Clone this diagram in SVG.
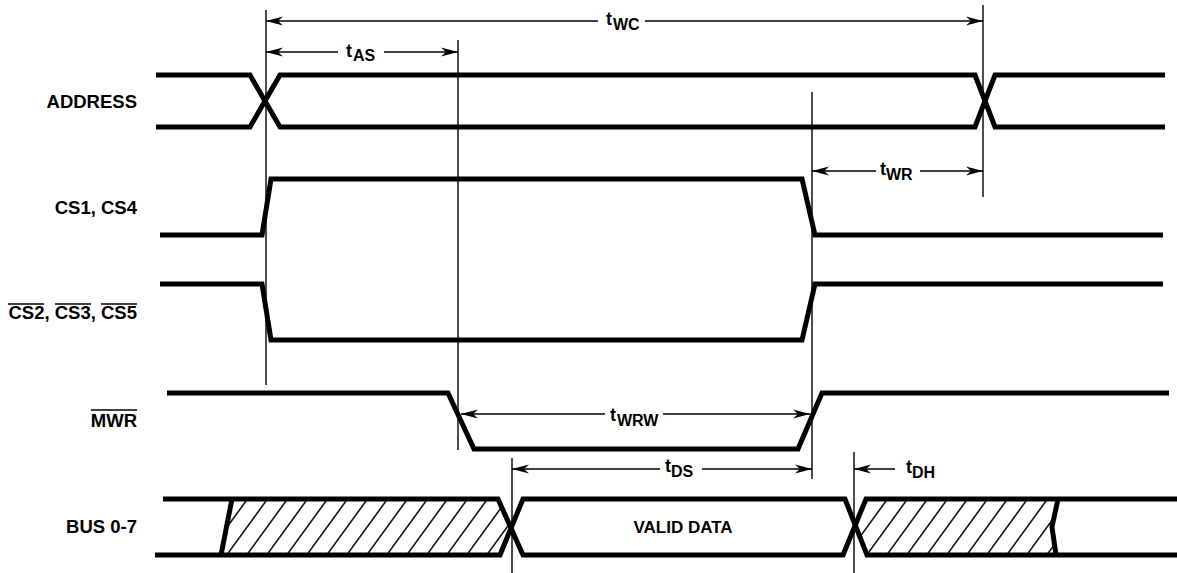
<svg xmlns="http://www.w3.org/2000/svg" width="1177" height="573" viewBox="0 0 1177 573">
<style>
.sig{fill:none;stroke:#000;stroke-width:5;stroke-linejoin:miter;stroke-linecap:butt}
.ref{fill:none;stroke:#000;stroke-width:1.4}
.dim{fill:none;stroke:#000;stroke-width:1.4}
.lbl{font-family:"Liberation Sans",Arial,sans-serif;font-weight:bold;font-size:18.5px;fill:#000}
.t{font-family:"Liberation Sans",Arial,sans-serif;font-weight:bold;font-size:18px;fill:#000}
.sub{font-family:"Liberation Sans",Arial,sans-serif;font-weight:bold;font-size:16px;fill:#000}
.ov{stroke:#000;stroke-width:1.5}
</style>
<defs>
<marker id="ah" markerUnits="userSpaceOnUse" viewBox="0 -5 17 10" refX="17" refY="0" markerWidth="17" markerHeight="10" orient="auto-start-reverse">
<path d="M0,-4.5 L17,0 L0,4.5 L5,0 Z" fill="#000"/>
</marker>
<pattern id="hatch" patternUnits="userSpaceOnUse" width="20" height="10" patternTransform="skewX(-36)">
<line x1="10" y1="-1" x2="10" y2="11" stroke="#000" stroke-width="1.8"/>
</pattern>
<clipPath id="hl"><polygon points="232,499 498,499 511,527 500,555 221,555"/></clipPath>
<clipPath id="hr"><polygon points="855,527 866,499 1058,499 1052,527 1056,555 867,555"/></clipPath>
</defs>

<g id="reference-lines">
<line class="ref" x1="266" y1="10" x2="266" y2="385"/>
<line class="ref" x1="458" y1="40" x2="458" y2="450"/>
<line class="ref" x1="983" y1="5" x2="983" y2="197"/>
<line class="ref" x1="812" y1="92" x2="812" y2="479"/>
<line class="ref" x1="512" y1="458" x2="512" y2="573"/>
<line class="ref" x1="854" y1="452" x2="854" y2="573"/>
</g>

<g id="signal-address">
<text class="lbl" x="137" y="108" text-anchor="end">ADDRESS</text>
<polyline class="sig" points="156,75 250,75 280,127 975,127 995,75 1165,75"/>
<polyline class="sig" points="156,127 250,127 280,75 975,75 995,127 1165,127"/>
</g>

<g id="signal-cs1-cs4">
<text class="lbl" x="137" y="214" text-anchor="end">CS1, CS4</text>
<polyline class="sig" points="160,235 262,235 271,179 802,179 815,235 1163,235"/>
</g>

<g id="signal-cs2-cs3-cs5">
<text class="lbl" x="137" y="319" text-anchor="end">CS2, CS3, CS5</text>
<line class="ov" x1="8" y1="304" x2="44" y2="304"/>
<line class="ov" x1="55" y1="304" x2="91" y2="304"/>
<line class="ov" x1="101" y1="304" x2="137" y2="304"/>
<polyline class="sig" points="160,284 262,284 271,340 802,340 815,284 1163,284"/>
</g>

<g id="signal-mwr">
<text class="lbl" x="137" y="427" text-anchor="end">MWR</text>
<line class="ov" x1="91" y1="410" x2="137" y2="410"/>
<polyline class="sig" points="167,393 448,393 474,449 798,449 822,393 1169,393"/>
</g>

<g id="signal-bus">
<text class="lbl" x="137" y="533" text-anchor="end">BUS 0-7</text>
<rect x="215" y="495" width="300" height="65" fill="url(#hatch)" clip-path="url(#hl)"/>
<rect x="850" y="495" width="215" height="65" fill="url(#hatch)" clip-path="url(#hr)"/>
<polyline class="sig" points="163,499 498,499 523,555 843,555 866,499 1177,499"/>
<polyline class="sig" points="155,555 500,555 523,499 845,499 867,555 1177,555"/>
<line class="sig" x1="232" y1="499" x2="221" y2="555"/>
<polyline class="sig" points="1058,499 1052,527 1056,555"/>
<text class="lbl" x="683" y="533" text-anchor="middle" style="font-size:17px">VALID DATA</text>
</g>

<g id="connectors">
<line class="dim" x1="598" y1="21" x2="266" y2="21" marker-end="url(#ah)"/>
<line class="dim" x1="645" y1="21" x2="983" y2="21" marker-end="url(#ah)"/>
<line class="dim" x1="338" y1="52" x2="266" y2="52" marker-end="url(#ah)"/>
<line class="dim" x1="384" y1="52" x2="458" y2="52" marker-end="url(#ah)"/>
<line class="dim" x1="876" y1="171" x2="812" y2="171" marker-end="url(#ah)"/>
<line class="dim" x1="920" y1="171" x2="983" y2="171" marker-end="url(#ah)"/>
<line class="dim" x1="605" y1="414" x2="461" y2="414" marker-end="url(#ah)"/>
<line class="dim" x1="663" y1="414" x2="810" y2="414" marker-end="url(#ah)"/>
<line class="dim" x1="660" y1="469" x2="512" y2="469" marker-end="url(#ah)"/>
<line class="dim" x1="702" y1="469" x2="812" y2="469" marker-end="url(#ah)"/>
<line class="dim" x1="895" y1="469" x2="854" y2="469" marker-end="url(#ah)"/>
</g>

<g id="timing-labels">
<text class="t" x="606" y="25">t</text><text class="sub" x="613" y="30">WC</text>
<text class="t" x="346" y="57">t</text><text class="sub" x="353" y="61">AS</text>
<text class="t" x="880" y="175">t</text><text class="sub" x="886" y="180">WR</text>
<text class="t" x="610" y="421">t</text><text class="sub" x="617" y="426">WRW</text>
<text class="t" x="665" y="472">t</text><text class="sub" x="671" y="477">DS</text>
<text class="t" x="906" y="473">t</text><text class="sub" x="912" y="478">DH</text>
</g>
</svg>
